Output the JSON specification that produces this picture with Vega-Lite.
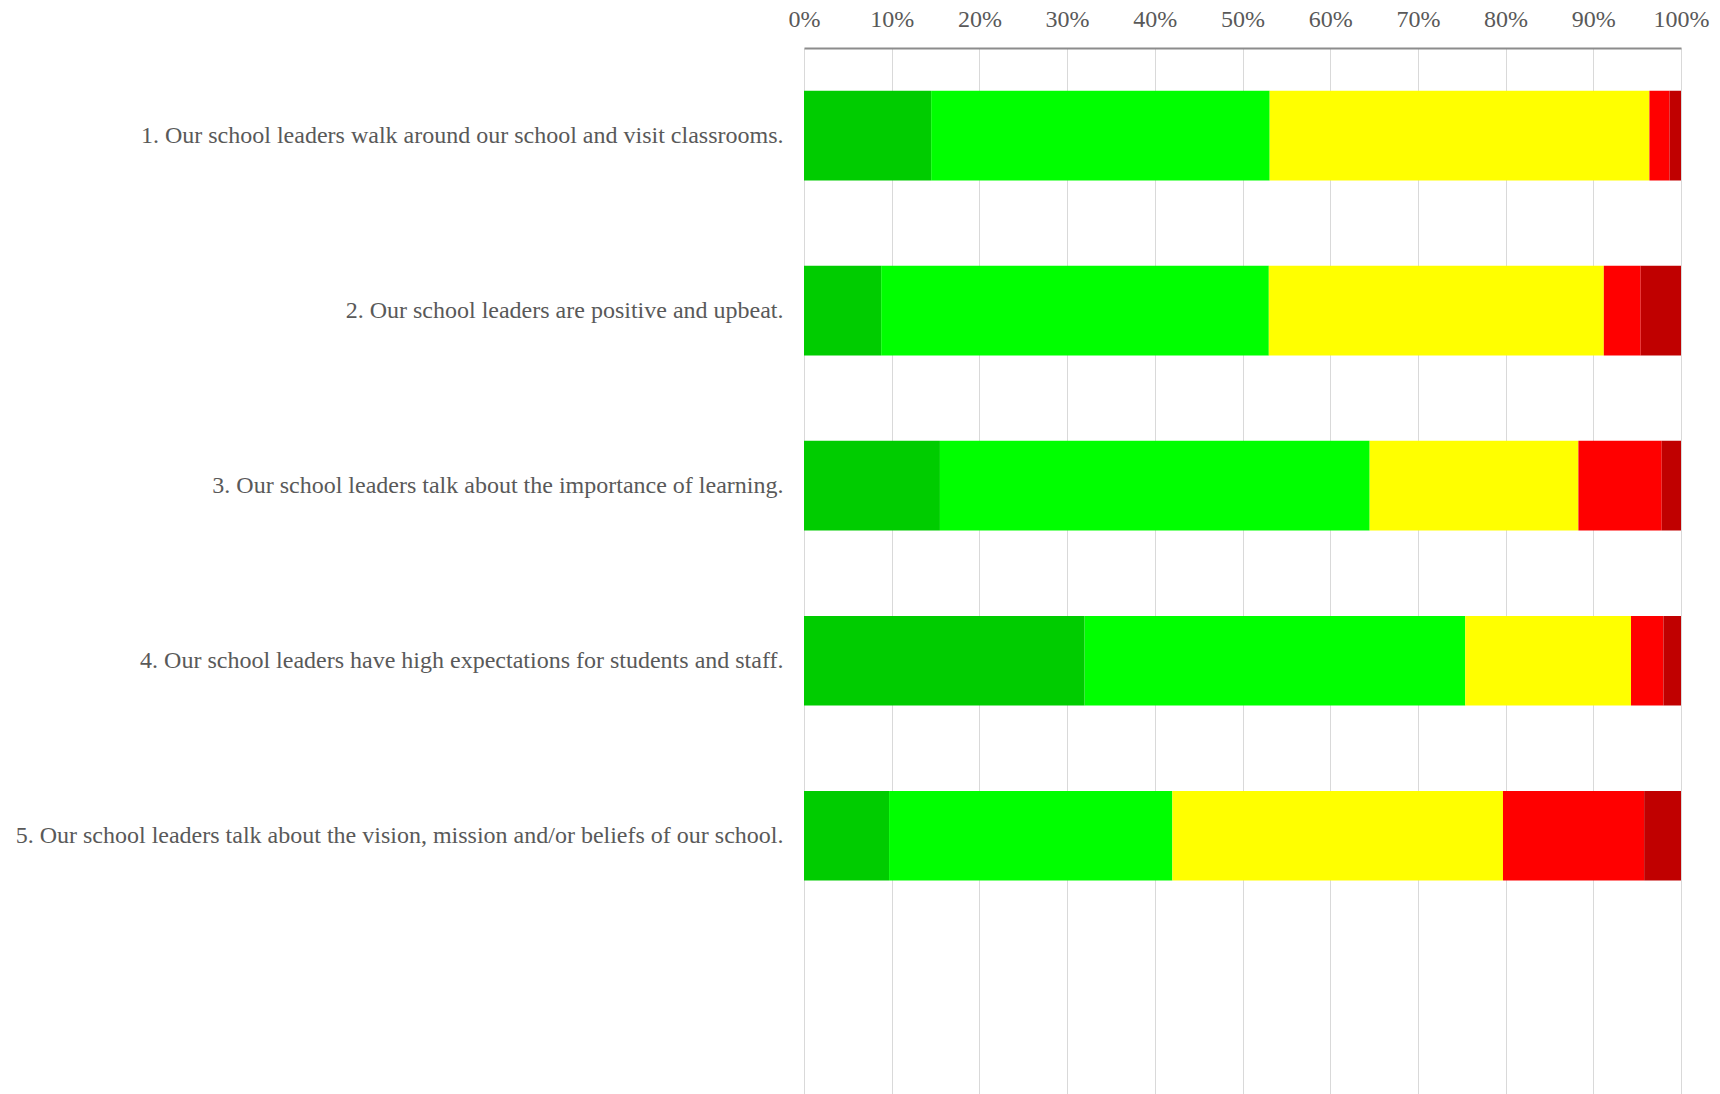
{
  "$schema": "https://vega.github.io/schema/vega-lite/v6.json",
  "autosize": {"type": "none"},
  "padding": {"left": 804, "top": 48, "right": 39, "bottom": 0},
  "width": 877,
  "height": 1046,
  "background": "white",
  "config": {"view": {"stroke": null}},
  "data": {
    "values": [
      {"item": "1. Our school leaders walk around our school and visit classrooms.", "response": "Strongly Agree", "rank": 1, "pct": 14.5},
      {"item": "1. Our school leaders walk around our school and visit classrooms.", "response": "Agree", "rank": 2, "pct": 38.6},
      {"item": "1. Our school leaders walk around our school and visit classrooms.", "response": "Neutral", "rank": 3, "pct": 43.3},
      {"item": "1. Our school leaders walk around our school and visit classrooms.", "response": "Disagree", "rank": 4, "pct": 2.3},
      {"item": "1. Our school leaders walk around our school and visit classrooms.", "response": "Strongly Disagree", "rank": 5, "pct": 1.3},
      {"item": "2. Our school leaders are positive and upbeat.", "response": "Strongly Agree", "rank": 1, "pct": 8.8},
      {"item": "2. Our school leaders are positive and upbeat.", "response": "Agree", "rank": 2, "pct": 44.2},
      {"item": "2. Our school leaders are positive and upbeat.", "response": "Neutral", "rank": 3, "pct": 38.2},
      {"item": "2. Our school leaders are positive and upbeat.", "response": "Disagree", "rank": 4, "pct": 4.2},
      {"item": "2. Our school leaders are positive and upbeat.", "response": "Strongly Disagree", "rank": 5, "pct": 4.6},
      {"item": "3. Our school leaders talk about the importance of learning.", "response": "Strongly Agree", "rank": 1, "pct": 15.5},
      {"item": "3. Our school leaders talk about the importance of learning.", "response": "Agree", "rank": 2, "pct": 49.0},
      {"item": "3. Our school leaders talk about the importance of learning.", "response": "Neutral", "rank": 3, "pct": 23.8},
      {"item": "3. Our school leaders talk about the importance of learning.", "response": "Disagree", "rank": 4, "pct": 9.5},
      {"item": "3. Our school leaders talk about the importance of learning.", "response": "Strongly Disagree", "rank": 5, "pct": 2.2},
      {"item": "4. Our school leaders have high expectations for students and staff.", "response": "Strongly Agree", "rank": 1, "pct": 32.0},
      {"item": "4. Our school leaders have high expectations for students and staff.", "response": "Agree", "rank": 2, "pct": 43.4},
      {"item": "4. Our school leaders have high expectations for students and staff.", "response": "Neutral", "rank": 3, "pct": 18.9},
      {"item": "4. Our school leaders have high expectations for students and staff.", "response": "Disagree", "rank": 4, "pct": 3.7},
      {"item": "4. Our school leaders have high expectations for students and staff.", "response": "Strongly Disagree", "rank": 5, "pct": 2.0},
      {"item": "5. Our school leaders talk about the vision, mission and/or beliefs of our school.", "response": "Strongly Agree", "rank": 1, "pct": 9.7},
      {"item": "5. Our school leaders talk about the vision, mission and/or beliefs of our school.", "response": "Agree", "rank": 2, "pct": 32.3},
      {"item": "5. Our school leaders talk about the vision, mission and/or beliefs of our school.", "response": "Neutral", "rank": 3, "pct": 37.7},
      {"item": "5. Our school leaders talk about the vision, mission and/or beliefs of our school.", "response": "Disagree", "rank": 4, "pct": 16.1},
      {"item": "5. Our school leaders talk about the vision, mission and/or beliefs of our school.", "response": "Strongly Disagree", "rank": 5, "pct": 4.2}
    ]
  },
  "mark": {"type": "bar"},
  "encoding": {
    "y": {
      "field": "item",
      "type": "nominal",
      "sort": null,
      "scale": {"paddingInner": 0.488, "paddingOuter": 0.732, "align": 0.167},
      "axis": {
        "title": null,
        "domain": false,
        "ticks": false,
        "grid": false,
        "labelFont": "Liberation Serif",
        "labelFontSize": 24,
        "labelColor": "#595959",
        "labelPadding": 21,
        "labelLimit": 0
      }
    },
    "x": {
      "field": "pct",
      "type": "quantitative",
      "stack": "normalize",
      "scale": {"domain": [0, 1], "nice": false},
      "axis": {
        "orient": "top",
        "title": null,
        "format": ".0%",
        "values": [0, 0.1, 0.2, 0.3, 0.4, 0.5, 0.6, 0.7, 0.8, 0.9, 1],
        "ticks": false,
        "grid": true,
        "gridColor": "#D9D9D9",
        "gridWidth": 1,
        "domainColor": "#8C8C8C",
        "domainWidth": 2,
        "labelFont": "Liberation Serif",
        "labelFontSize": 24,
        "labelColor": "#595959",
        "labelPadding": 17,
        "labelFlush": false,
        "labelOverlap": false
      }
    },
    "color": {
      "field": "response",
      "type": "nominal",
      "scale": {
        "domain": ["Strongly Agree", "Agree", "Neutral", "Disagree", "Strongly Disagree"],
        "range": ["#00CC00", "#00FF00", "#FFFF00", "#FF0000", "#C00000"]
      },
      "legend": null
    },
    "order": {"field": "rank", "type": "quantitative"}
  }
}
